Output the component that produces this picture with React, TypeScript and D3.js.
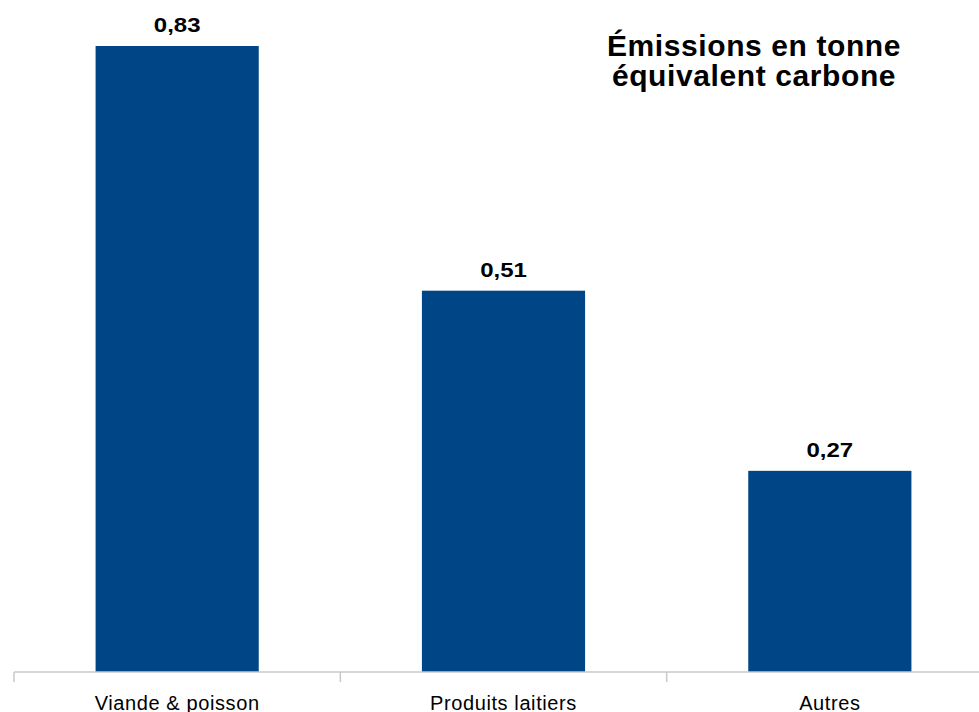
import { useEffect, useRef } from 'react';
import * as d3 from 'd3';

const categories = ['Viande & poisson', 'Produits laitiers', 'Autres'];
const emissions = [0.834, 0.508, 0.268];
const titleLines = ['Émissions en tonne', 'équivalent carbone'];

const W = 979;
const H = 712;
const FONT = '"Liberation Sans", Arial, sans-serif';

export default function App() {
  const ref = useRef<SVGSVGElement>(null);

  useEffect(() => {
    if (!ref.current) return;
    const svg = d3.select(ref.current);
    svg.selectAll('*').remove();

    const baseY = 672;
    const x = d3.scaleBand<string>()
      .domain(categories)
      .range([14, 993])
      .paddingInner(0.5)
      .paddingOuter(0.25);

    const y = d3.scaleLinear()
      .domain([0, d3.max(emissions)!])
      .range([baseY, 46]);

    const fmt = (v: number) => d3.format('.2f')(v).replace('.', ',');

    // bars
    svg.append('g')
      .selectAll('rect')
      .data(emissions)
      .join('rect')
      .attr('x', (_, i) => x(categories[i])!)
      .attr('y', d => y(d))
      .attr('width', x.bandwidth())
      .attr('height', d => baseY - y(d))
      .attr('fill', '#004586');

    // value labels (slightly wide glyphs like the original)
    svg.append('g')
      .selectAll('text')
      .data(emissions)
      .join('text')
      .attr('transform', (d, i) =>
        `translate(${x(categories[i])! + x.bandwidth() / 2},${y(d) - 14}) scale(1.2,1)`)
      .attr('text-anchor', 'middle')
      .attr('font-family', FONT)
      .attr('font-weight', 'bold')
      .attr('font-size', 20)
      .attr('fill', '#000')
      .text(d => fmt(d));

    // axis line + ticks (category boundaries)
    const axis = svg.append('g').attr('stroke', '#c8c8c8').attr('stroke-width', 1.5);
    axis.append('line')
      .attr('x1', x.range()[0]).attr('x2', x.range()[1])
      .attr('y1', baseY).attr('y2', baseY);
    const bounds = categories.map(c => x(c)! - x.step() * x.paddingInner() / 2)
      .concat([x.range()[1]]);
    axis.selectAll('line.tick')
      .data(bounds)
      .join('line')
      .attr('class', 'tick')
      .attr('x1', d => d).attr('x2', d => d)
      .attr('y1', baseY).attr('y2', baseY + 10);

    // category labels
    svg.append('g')
      .selectAll('text')
      .data(categories)
      .join('text')
      .attr('x', d => x(d)! + x.bandwidth() / 2)
      .attr('y', 710)
      .attr('text-anchor', 'middle')
      .attr('font-family', FONT)
      .attr('font-size', 20)
      .attr('letter-spacing', 0.6)
      .attr('fill', '#000')
      .text(d => d);

    // title
    svg.append('g')
      .selectAll('text')
      .data(titleLines)
      .join('text')
      .attr('x', 754)
      .attr('y', (_, i) => 56 + i * 30)
      .attr('text-anchor', 'middle')
      .attr('font-family', FONT)
      .attr('font-weight', 'bold')
      .attr('font-size', 30)
      .attr('letter-spacing', 0.6)
      .attr('fill', '#000')
      .text(d => d);
  }, []);

  return (
    <div style={{ position: 'absolute', left: 0, top: 0 }}>
      <svg ref={ref} width={W} height={H} style={{ display: 'block', background: '#fff' }} />
    </div>
  );
}
